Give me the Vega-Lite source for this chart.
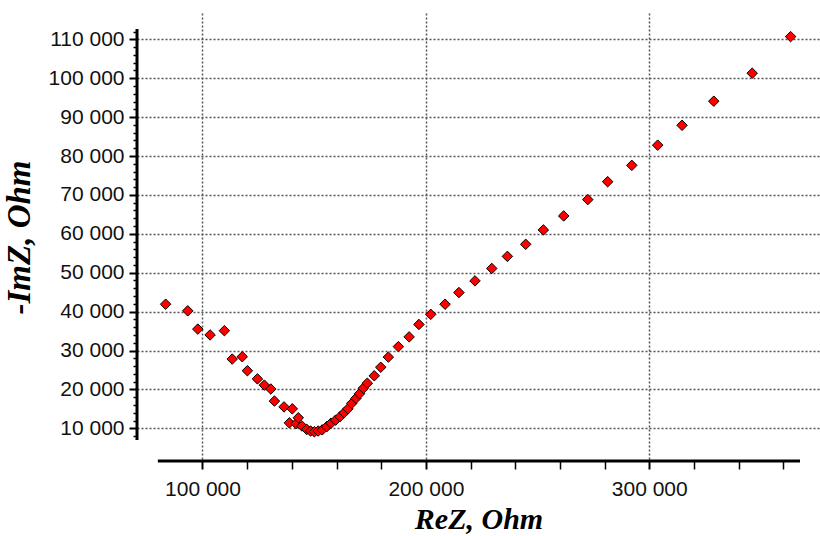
{
  "$schema": "https://vega.github.io/schema/vega-lite/v6.json",
  "width": 683,
  "height": 448,
  "autosize": "none",
  "padding": {"left": 137, "top": 13, "right": 0, "bottom": 75},
  "background": "white",
  "config": {"view": {"stroke": null}},
  "datasets": {
    "pts": [
      {"re": 83500, "im": 41900}, {"re": 93400, "im": 40200}, {"re": 97900, "im": 35500},
      {"re": 103400, "im": 34000}, {"re": 109800, "im": 35100}, {"re": 113300, "im": 27800},
      {"re": 117800, "im": 28400}, {"re": 120100, "im": 24800}, {"re": 124600, "im": 22700},
      {"re": 127700, "im": 21100}, {"re": 130600, "im": 20100}, {"re": 132200, "im": 17000},
      {"re": 136500, "im": 15500}, {"re": 140200, "im": 15000}, {"re": 138900, "im": 11400},
      {"re": 141900, "im": 11200}, {"re": 142900, "im": 12700}, {"re": 144500, "im": 10600},
      {"re": 146700, "im": 9700}, {"re": 148400, "im": 9300}, {"re": 150100, "im": 9100},
      {"re": 151800, "im": 9300}, {"re": 153600, "im": 9600}, {"re": 155600, "im": 10400},
      {"re": 157500, "im": 11300}, {"re": 159600, "im": 12100}, {"re": 161600, "im": 13000},
      {"re": 163400, "im": 14000}, {"re": 165100, "im": 15000}, {"re": 166800, "im": 16400},
      {"re": 168700, "im": 17700}, {"re": 170300, "im": 18900}, {"re": 172000, "im": 20300},
      {"re": 173800, "im": 21600}, {"re": 176900, "im": 23500}, {"re": 179800, "im": 25700},
      {"re": 183200, "im": 28300}, {"re": 187700, "im": 31000}, {"re": 192500, "im": 33500},
      {"re": 196900, "im": 36700}, {"re": 202200, "im": 39300}, {"re": 208600, "im": 41900},
      {"re": 214800, "im": 44900}, {"re": 222000, "im": 47900}, {"re": 229500, "im": 51100},
      {"re": 236500, "im": 54200}, {"re": 244700, "im": 57300}, {"re": 252600, "im": 61000},
      {"re": 261700, "im": 64600}, {"re": 272500, "im": 68800}, {"re": 281400, "im": 73400},
      {"re": 292200, "im": 77600}, {"re": 303800, "im": 82800}, {"re": 314700, "im": 87900},
      {"re": 328900, "im": 94100}, {"re": 346100, "im": 101300}, {"re": 363300, "im": 110700}
    ]
  },
  "layer": [
    {
      "data": {"name": "pts"},
      "mark": {"type": "point", "shape": "diamond", "filled": true, "fill": "#ff0000", "stroke": "#000000", "strokeWidth": 1, "size": 110, "opacity": 1},
      "encoding": {
        "x": {
          "field": "re", "type": "quantitative",
          "scale": {"domain": [70676, 376455], "nice": false, "zero": false},
          "axis": {
            "title": "ReZ, Ohm",
            "titleFont": "Liberation Serif", "titleFontSize": 30, "titleFontStyle": "italic", "titleFontWeight": "bold", "titleColor": "#000", "titlePadding": 5,
            "tickCount": 200,
            "values": [100000, 120000, 140000, 160000, 180000, 200000, 220000, 240000, 260000, 280000, 300000, 320000, 340000, 360000],
            "labelExpr": "datum.value % 100000 === 0 ? replace(format(datum.value, ','), ',', ' ') : ''",
            "labelFont": "Liberation Sans", "labelFontSize": 21, "labelColor": "#111", "labelPadding": 9, "labelOverlap": false, "labelFlush": false,
            "domain": false,
            "ticks": true,
            "tickColor": "#000",
            "tickSize": 8,
            "tickWidth": {"condition": {"test": "datum.value % 100000 === 0", "value": 2}, "value": 1.5},
            "grid": true,
            "gridColor": "#555555", "gridDash": [2, 2], "gridWidth": 1.5,
            "gridOpacity": {"condition": {"test": "datum.value % 100000 === 0", "value": 1}, "value": 0}
          }
        },
        "y": {
          "field": "im", "type": "quantitative",
          "scale": {"domain": [1593, 116774], "nice": false, "zero": false},
          "axis": {
            "title": "-ImZ, Ohm",
            "titleFont": "Liberation Serif", "titleFontSize": 33, "titleFontStyle": "italic", "titleFontWeight": "bold", "titleColor": "#000", "titlePadding": 12,
            "tickCount": 200,
            "values": [8000, 10000, 12000, 14000, 16000, 18000, 20000, 22000, 24000, 26000, 28000, 30000, 32000, 34000, 36000, 38000, 40000, 42000, 44000, 46000, 48000, 50000, 52000, 54000, 56000, 58000, 60000, 62000, 64000, 66000, 68000, 70000, 72000, 74000, 76000, 78000, 80000, 82000, 84000, 86000, 88000, 90000, 92000, 94000, 96000, 98000, 100000, 102000, 104000, 106000, 108000, 110000, 112000],
            "labelExpr": "datum.value % 10000 === 0 ? replace(format(datum.value, ','), ',', ' ') : ''",
            "labelFont": "Liberation Sans", "labelFontSize": 21, "labelColor": "#111", "labelPadding": 5, "labelOverlap": false, "labelFlush": false,
            "domain": false,
            "tickColor": "#000",
            "tickSize": {"condition": {"test": "datum.value % 10000 === 0", "value": 8}, "value": 4},
            "tickWidth": {"condition": {"test": "datum.value % 10000 === 0", "value": 2}, "value": 1.5},
            "grid": true,
            "gridColor": "#555555", "gridDash": [2, 2], "gridWidth": 1.5,
            "gridOpacity": {"condition": {"test": "datum.value % 10000 === 0", "value": 1}, "value": 0}
          }
        }
      }
    },
    {
      "data": {"values": [{}]},
      "mark": {"type": "rule", "color": "#000", "strokeWidth": 3},
      "encoding": {
        "x": {"datum": 80000, "type": "quantitative"},
        "x2": {"datum": 367500},
        "y": {"datum": 1593, "type": "quantitative"}
      }
    },
    {
      "data": {"values": [{}]},
      "mark": {"type": "rule", "color": "#000", "strokeWidth": 3},
      "encoding": {
        "x": {"datum": 70676, "type": "quantitative"},
        "y": {"datum": 7000, "type": "quantitative"},
        "y2": {"datum": 112660}
      }
    }
  ]
}
